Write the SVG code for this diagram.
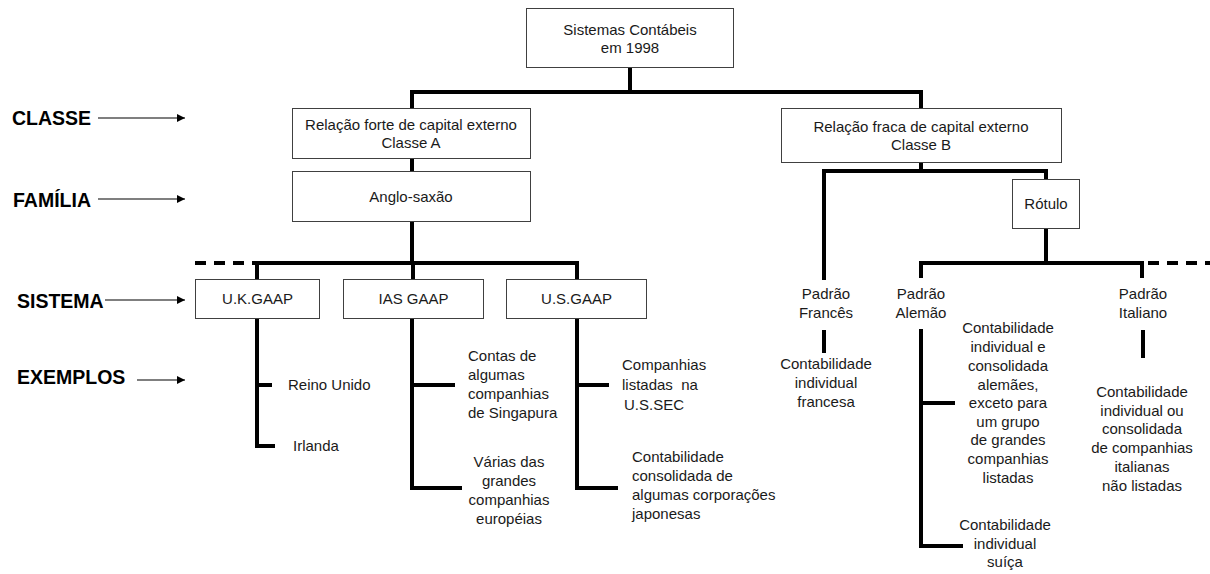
<svg xmlns="http://www.w3.org/2000/svg" width="1210" height="574" viewBox="0 0 1210 574">
  <defs>
    <marker id="arrow" viewBox="0 0 8 8" refX="8" refY="4" markerWidth="8" markerHeight="8" markerUnits="userSpaceOnUse" orient="auto">
      <path d="M0,0 L8,4 L0,8 Z" fill="#000"/>
    </marker>
    <style>
      text { font-family: "Liberation Sans", Arial, sans-serif; font-size: 15px; fill: #1a1a1a; }
      .c { text-anchor: middle; }
      .lbl { font-size: 19.5px; font-weight: bold; fill: #000; }
      .box { fill: #fff; stroke: #404040; stroke-width: 1; }
      .wire { fill: none; stroke: #000; stroke-width: 4; stroke-linejoin: miter; stroke-linecap: butt; }
      .dash { fill: none; stroke: #000; stroke-width: 4; stroke-dasharray: 11 8; }
      .ptr { stroke: #000; stroke-width: 1.2; marker-end: url(#arrow); }
    </style>
  </defs>
  <rect width="1210" height="574" fill="#fff"/>

  <!-- level labels on the left -->
  <g id="levels">
    <text class="lbl" x="12" y="125">CLASSE</text>
    <line class="ptr" x1="98" y1="118" x2="185" y2="118"/>
    <text class="lbl" x="13" y="207">FAMÍLIA</text>
    <line class="ptr" x1="98" y1="199" x2="185" y2="199"/>
    <text class="lbl" x="17" y="308">SISTEMA</text>
    <line class="ptr" x1="105" y1="300" x2="185" y2="300"/>
    <text class="lbl" x="17" y="384">EXEMPLOS</text>
    <line class="ptr" x1="137" y1="380" x2="185" y2="380"/>
  </g>

  <!-- tree connectors -->
  <g id="connectors">
    <path class="wire" d="M630,68 V92 M412,92 H921 M412,90 V108 M921,90 V108"/>
    <path class="wire" d="M412,159 V171"/>
    <path class="wire" d="M412,222 V263 M255,263 H579 M257,261 V279 M413,261 V279 M577,261 V279"/>
    <path class="dash" d="M195,263 H255"/>
    <path class="wire" d="M257,319 V446 H275 M255,385 H272"/>
    <path class="wire" d="M412,319 V488 H462 M410,385 H455"/>
    <path class="wire" d="M577,319 V488 H618 M575,385 H609"/>
    <path class="wire" d="M921,163 V171 M824,171 H1046 M824,169 V280 M1046,169 V179"/>
    <path class="wire" d="M824,330 V353"/>
    <path class="wire" d="M1046,229 V263 M919,263 H1144 M921,261 V278 M1142,261 V278"/>
    <path class="dash" d="M1148,263 H1210"/>
    <path class="wire" d="M921,329 V546 H963 M919,403 H955"/>
    <path class="wire" d="M1143,330 V358"/>
  </g>

  <g id="root">
    <rect class="box" x="526.5" y="8.5" width="207" height="59"/>
    <text class="c" x="630" y="35">Sistemas Contábeis</text>
    <text class="c" x="630" y="53">em 1998</text>
  </g>

  <g id="classe-a">
    <rect class="box" x="292.5" y="108.5" width="238" height="50"/>
    <text class="c" x="411" y="130">Relação forte de capital externo</text>
    <text class="c" x="411" y="148">Classe A</text>
  </g>

  <g id="classe-b">
    <rect class="box" x="781.5" y="108.5" width="280" height="54"/>
    <text class="c" x="921" y="132">Relação fraca de capital externo</text>
    <text class="c" x="921" y="150">Classe B</text>
  </g>

  <g id="anglo-saxao">
    <rect class="box" x="292.5" y="171.5" width="238" height="50"/>
    <text class="c" x="411" y="202">Anglo-saxão</text>
  </g>

  <g id="rotulo">
    <rect class="box" x="1012.5" y="179.5" width="67" height="49"/>
    <text class="c" x="1046" y="209">Rótulo</text>
  </g>

  <g id="uk-gaap">
    <rect class="box" x="195.5" y="279.5" width="124" height="39"/>
    <text class="c" x="257.5" y="304">U.K.GAAP</text>
  </g>

  <g id="ias-gaap">
    <rect class="box" x="343.5" y="279.5" width="140" height="39"/>
    <text class="c" x="413.5" y="304">IAS GAAP</text>
  </g>

  <g id="us-gaap">
    <rect class="box" x="506.5" y="279.5" width="140" height="39"/>
    <text class="c" x="576.5" y="304">U.S.GAAP</text>
  </g>

  <g id="padrao-frances">
    <text class="c" x="826" y="299">Padrão</text>
    <text class="c" x="826" y="318">Francês</text>
  </g>

  <g id="padrao-alemao">
    <text class="c" x="921" y="299">Padrão</text>
    <text class="c" x="921" y="318">Alemão</text>
  </g>

  <g id="padrao-italiano">
    <text class="c" x="1143" y="299">Padrão</text>
    <text class="c" x="1143" y="318">Italiano</text>
  </g>

  <!-- examples -->
  <g id="ex-reino-unido"><text x="288" y="390">Reino Unido</text></g>
  <g id="ex-irlanda"><text x="293" y="451">Irlanda</text></g>

  <g id="ex-singapura">
    <text x="468" y="361">Contas de</text>
    <text x="468" y="380">algumas</text>
    <text x="468" y="399">companhias</text>
    <text x="468" y="418">de Singapura</text>
  </g>

  <g id="ex-europeias">
    <text class="c" x="509" y="467">Várias das</text>
    <text class="c" x="509" y="486">grandes</text>
    <text class="c" x="509" y="505">companhias</text>
    <text class="c" x="509" y="524">européias</text>
  </g>

  <g id="ex-us-sec">
    <text x="622" y="370" xml:space="preserve">Companhias</text>
    <text x="622" y="390" xml:space="preserve">listadas  na</text>
    <text x="624" y="410">U.S.SEC</text>
  </g>

  <g id="ex-japonesas">
    <text x="632" y="462">Contabilidade</text>
    <text x="632" y="481">consolidada de</text>
    <text x="632" y="500">algumas corporações</text>
    <text x="632" y="519">japonesas</text>
  </g>

  <g id="ex-francesa">
    <text class="c" x="826" y="369">Contabilidade</text>
    <text class="c" x="826" y="388">individual</text>
    <text class="c" x="826" y="407">francesa</text>
  </g>

  <g id="ex-alemaes">
    <text class="c" x="1008" y="333">Contabilidade</text>
    <text class="c" x="1008" y="352">individual e</text>
    <text class="c" x="1008" y="371">consolidada</text>
    <text class="c" x="1008" y="390">alemães,</text>
    <text class="c" x="1008" y="408">exceto para</text>
    <text class="c" x="1008" y="427">um grupo</text>
    <text class="c" x="1008" y="445">de grandes</text>
    <text class="c" x="1008" y="464">companhias</text>
    <text class="c" x="1008" y="483">listadas</text>
  </g>

  <g id="ex-suica">
    <text class="c" x="1005" y="530">Contabilidade</text>
    <text class="c" x="1005" y="549">individual</text>
    <text class="c" x="1005" y="567">suíça</text>
  </g>

  <g id="ex-italianas">
    <text class="c" x="1142" y="397">Contabilidade</text>
    <text class="c" x="1142" y="416">individual ou</text>
    <text class="c" x="1142" y="434">consolidada</text>
    <text class="c" x="1142" y="453">de companhias</text>
    <text class="c" x="1142" y="472">italianas</text>
    <text class="c" x="1142" y="491">não listadas</text>
  </g>
</svg>
